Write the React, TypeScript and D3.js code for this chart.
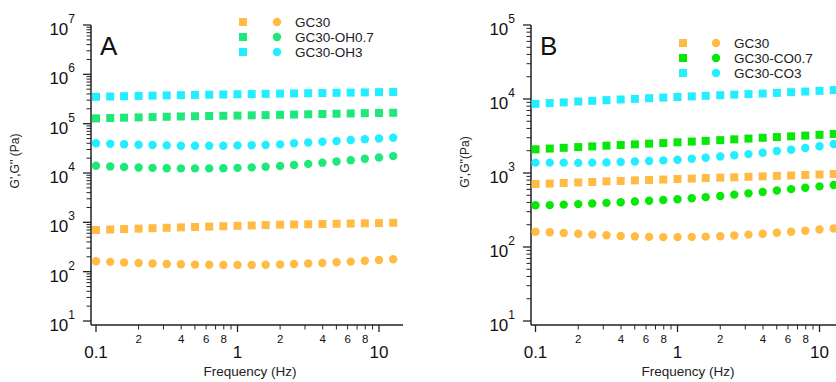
import React from 'react';
import * as d3 from 'd3';

// frequency sweep (Hz)
const freq = [0.1, 0.126, 0.158, 0.2, 0.251, 0.316, 0.398, 0.501, 0.631, 0.794, 1, 1.26, 1.58, 2, 2.51, 3.16, 3.98, 5.01, 6.31, 7.94, 10, 12.6];

// panel A
const gc30A_G1 = [700, 715, 730, 745, 760, 775, 790, 805, 820, 835, 850, 865, 880, 895, 905, 915, 925, 935, 945, 955, 965, 980];
const gc30A_G2 = [163, 158, 154, 150, 146, 143, 141, 139, 138, 137, 137, 137, 138, 140, 143, 146, 150, 155, 160, 166, 172, 178];
const oh07_G1 = [128000, 130000, 132000, 134000, 136000, 138000, 140000, 141500, 143000, 144500, 146000, 147500, 149000, 151000, 153000, 155000, 157000, 159000, 161000, 163000, 164500, 166000];
const oh07_G2 = [14000, 13600, 13200, 12900, 12700, 12500, 12400, 12400, 12400, 12500, 12700, 13000, 13400, 13900, 14500, 15300, 16200, 17100, 18200, 19400, 20700, 22000];
const oh3_G1 = [350000, 355000, 360000, 365000, 370000, 374000, 378000, 382000, 386000, 390000, 394000, 398000, 402000, 406000, 410000, 414000, 418000, 422000, 426000, 430000, 435000, 440000];
const oh3_G2 = [40000, 39000, 38200, 37500, 37000, 36300, 35700, 35800, 35800, 35800, 36300, 36500, 37000, 38000, 40000, 41500, 43000, 44500, 46500, 48500, 50000, 52000];

// panel B
const gc30B_G1 = [710, 720, 735, 745, 755, 770, 780, 795, 805, 815, 830, 840, 855, 865, 875, 890, 900, 915, 925, 940, 955, 970];
const gc30B_G2 = [161, 158, 155, 151, 147, 144, 141, 139, 137, 136, 136, 137, 138, 140, 143, 147, 151, 156, 161, 166, 172, 178];
const co07_G1 = [2090, 2140, 2190, 2240, 2290, 2340, 2390, 2440, 2490, 2540, 2600, 2660, 2720, 2780, 2850, 2920, 2990, 3060, 3130, 3200, 3280, 3370];
const co07_G2 = [366, 368, 374, 380, 387, 395, 403, 412, 421, 431, 442, 456, 472, 490, 510, 531, 555, 580, 605, 632, 660, 690];
const co3_G1 = [8600, 8800, 9000, 9250, 9450, 9650, 9850, 10050, 10250, 10450, 10650, 10850, 11050, 11250, 11450, 11650, 11850, 12100, 12350, 12600, 12900, 13200];
const co3_G2 = [1380, 1380, 1380, 1370, 1380, 1390, 1410, 1430, 1450, 1480, 1510, 1560, 1610, 1670, 1740, 1800, 1880, 1980, 2060, 2180, 2300, 2460];

const namesA = ['GC30', 'GC30-OH0.7', 'GC30-OH3'];
const namesB = ['GC30', 'GC30-CO0.7', 'GC30-CO3'];
const xTickMajor = [0.1, 1, 10];
const xTickLabelsMinor = [2, 4, 6, 8];

const ORANGE = '#ffbb44';
const CYAN = '#22eeff';

const FONT = 'Liberation Sans, Arial, sans-serif';

function Panel(props: any) {
  const { right, yTop, yBottom, yMin, yMax, xLeft, x0, x1, axisY, series, names, legend, letter, ylabel, ylabelX, ylabelY, titleX } = props;
  const x = d3.scaleLog().domain([0.1, 10]).range([x0, x1]);
  const y = d3.scaleLog().domain([yMin, yMax]).range([yBottom, yTop]);

  const yMajors: number[] = [];
  const yMinors: number[] = [];
  for (let e = Math.log10(yMin); e <= Math.log10(yMax); e++) {
    yMajors.push(Math.pow(10, e));
    if (e < Math.log10(yMax)) for (let m = 2; m <= 9; m++) yMinors.push(m * Math.pow(10, e));
  }
  const xMinors: number[] = [];
  for (let e = -1; e <= 1; e++) for (let m = 2; m <= 9; m++) {
    const v = m * Math.pow(10, e);
    if (x(v) <= right) xMinors.push(v);
  }
  const lead = (v: number) => Math.round(v / Math.pow(10, Math.floor(Math.log10(v) + 1e-9)));

  return (
    <g fontFamily={FONT}>
      {/* y axis */}
      <line x1={xLeft} x2={xLeft} y1={yTop} y2={axisY} stroke="#222" strokeWidth={1.5} />
      {yMajors.map((v) => (
        <g key={'ym' + v}>
          <line x1={xLeft - 8} x2={xLeft} y1={y(v)} y2={y(v)} stroke="#222" strokeWidth={1.3} />
          <text x={xLeft - 16} y={y(v) + 10} textAnchor="end" fontSize={17} fill="#111">
            <tspan>10</tspan>
            <tspan dy={-12} fontSize={12}>{Math.round(Math.log10(v))}</tspan>
          </text>
        </g>
      ))}
      {yMinors.map((v) => (
        <line key={'yn' + v} x1={xLeft - 4.5} x2={xLeft} y1={y(v)} y2={y(v)} stroke="#222" strokeWidth={1} />
      ))}
      {/* x axis */}
      <line x1={xLeft} x2={right} y1={axisY} y2={axisY} stroke="#222" strokeWidth={1.5} />
      {xTickMajor.filter((v) => x(v) <= right).map((v) => (
        <g key={'xm' + v}>
          <line x1={x(v)} x2={x(v)} y1={axisY} y2={axisY + 7} stroke="#222" strokeWidth={1.3} />
          <text x={x(v)} y={axisY + 33} textAnchor="middle" fontSize={17} fill="#111">{v}</text>
        </g>
      ))}
      {xMinors.map((v) => (
        <g key={'xn' + v}>
          <line x1={x(v)} x2={x(v)} y1={axisY} y2={axisY + 4.5} stroke="#222" strokeWidth={1} />
          {xTickLabelsMinor.includes(lead(v)) && (
            <text x={x(v)} y={axisY + 18} textAnchor="middle" fontSize={11.5} fill="#111">
              {lead(v)}
            </text>
          )}
        </g>
      ))}
      <text x={titleX} y={axisY + 51} textAnchor="middle" fontSize={13.5} fill="#222">
        Frequency (Hz)
      </text>
      <text transform={`translate(${ylabelX},${ylabelY}) rotate(-90)`} textAnchor="middle" fontSize={12} fill="#222">{ylabel}</text>
      <text x={xLeft + 9} y={yTop + 30} fontSize={26} fill="#111">{letter}</text>

      {/* data */}
      {series.map((s: any, i: number) => (
        <g key={'s' + i}>
          {s.g1.map((v: number, k: number) => (
            <rect key={'q' + k} x={x(freq[k]) - 4} y={y(v) - 4} width={8} height={8} fill={s.color} />
          ))}
          {s.g2.map((v: number, k: number) => (
            <circle key={'c' + k} cx={x(freq[k])} cy={y(v)} r={4.2} fill={s.color} />
          ))}
        </g>
      ))}

      {/* legend */}
      {series.map((s: any, i: number) => (
        <g key={'l' + i}>
          <rect x={legend.sx - 4} y={legend.y + i * 15 - 4} width={8} height={8} fill={s.color} />
          <circle cx={legend.cx} cy={legend.y + i * 15} r={4.2} fill={s.color} />
          <text x={legend.tx} y={legend.y + i * 15 + 5} fontSize={13.5} fill="#222">{names[i]}</text>
        </g>
      ))}
    </g>
  );
}

export default function App() {
  const seriesA = [
    { g1: gc30A_G1, g2: gc30A_G2, color: ORANGE },
    { g1: oh07_G1, g2: oh07_G2, color: '#1ee87a' },
    { g1: oh3_G1, g2: oh3_G2, color: CYAN },
  ];
  const seriesB = [
    { g1: gc30B_G1, g2: gc30B_G2, color: ORANGE },
    { g1: co07_G1, g2: co07_G2, color: '#08e808' },
    { g1: co3_G1, g2: co3_G2, color: CYAN },
  ];
  return (
    <svg width={836} height={382} style={{ position: 'absolute', left: 0, top: 0, background: '#fff' }}>
      <rect width={836} height={382} fill="#fff" />
      <Panel
        right={403} yTop={25} yBottom={321} yMin={10} yMax={1e7} xLeft={91} x0={96} x1={379} axisY={325}
        series={seriesA} names={namesA} legend={{ sx: 243, cx: 277, tx: 295, y: 22 }} letter="A"
        ylabel={"G',G'' (Pa)"} ylabelX={19} ylabelY={161} titleX={250}
      />
      <Panel
        right={850} yTop={25} yBottom={321} yMin={10} yMax={1e5} xLeft={531} x0={535.5} x1={819.5} axisY={325}
        series={seriesB} names={namesB} legend={{ sx: 683, cx: 716, tx: 734, y: 43 }} letter="B"
        ylabel={"G',G''(Pa)"} ylabelX={469} ylabelY={162} titleX={688}
      />
    </svg>
  );
}
